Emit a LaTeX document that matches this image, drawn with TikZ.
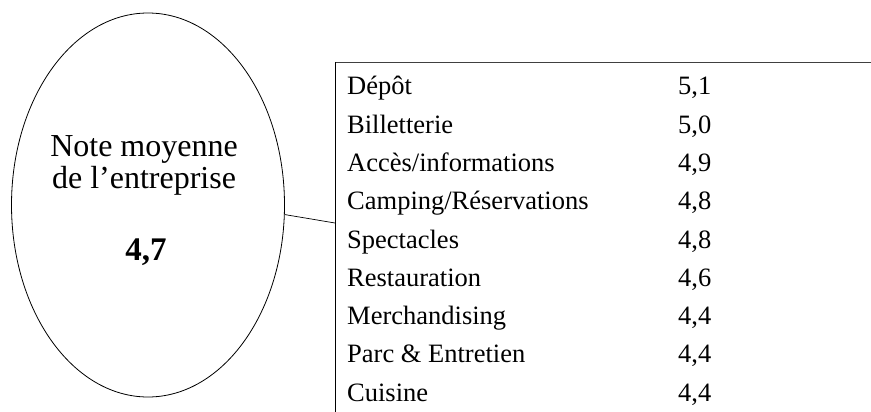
\documentclass[tikz,border=0pt]{standalone}
\usepackage{fontspec}
\setmainfont{Liberation Serif}
\usetikzlibrary{shapes.geometric}
\tikzset{
  bulle/.style={ellipse, draw, line width=0.8pt, minimum width=273pt, minimum height=384pt, inner sep=0pt},
  titre/.style={font=\fontsize{32}{38}\selectfont, inner sep=0pt, anchor=base},
  ligne/.style={font=\fontsize{26.5}{30}\selectfont, inner sep=0pt, anchor=base west},
}
\begin{document}
\begin{tikzpicture}[x=1pt,y=-1pt]
\useasboundingbox (0,0) rectangle (871,412);
% the average mark
\node[bulle] (moyenne) at (148,205) {};
\node[titre] (note) at (144,157) {Note moyenne};
\node[titre] (entreprise) at (144,188) {de l’entreprise};
\node[titre,font=\fontsize{33}{38}\selectfont\bfseries] (total) at (146,260) {4,7};

% the frame of the list
\coordinate (coin) at (335,62);
\coordinate (haut) at (871,62);
\coordinate (bas) at (335,412);
\coordinate (attache) at (335,223);
\draw[line width=0.9pt,black!75] (coin) -- (haut);
\draw[line width=0.8pt] (coin) -- (bas);
\draw[line width=0.7pt] (moyenne.-4) -- (attache);

\foreach \lab/\val [count=\i from 0] in {Dépôt/{5,1},Billetterie/{5,0},
  {Accès/informations}/{4,9},{Camping/Réservations}/{4,8},Spectacles/{4,8},
  Restauration/{4,6},Merchandising/{4,4},Parc \& Entretien/{4,4},Cuisine/{4,4}}
{
\node[ligne] (lab\i) at (347,95+38.25*\i) {\lab};
\node[ligne] (val\i) at (678,95+38.25*\i) {\val};
}
\end{tikzpicture}
\end{document}
